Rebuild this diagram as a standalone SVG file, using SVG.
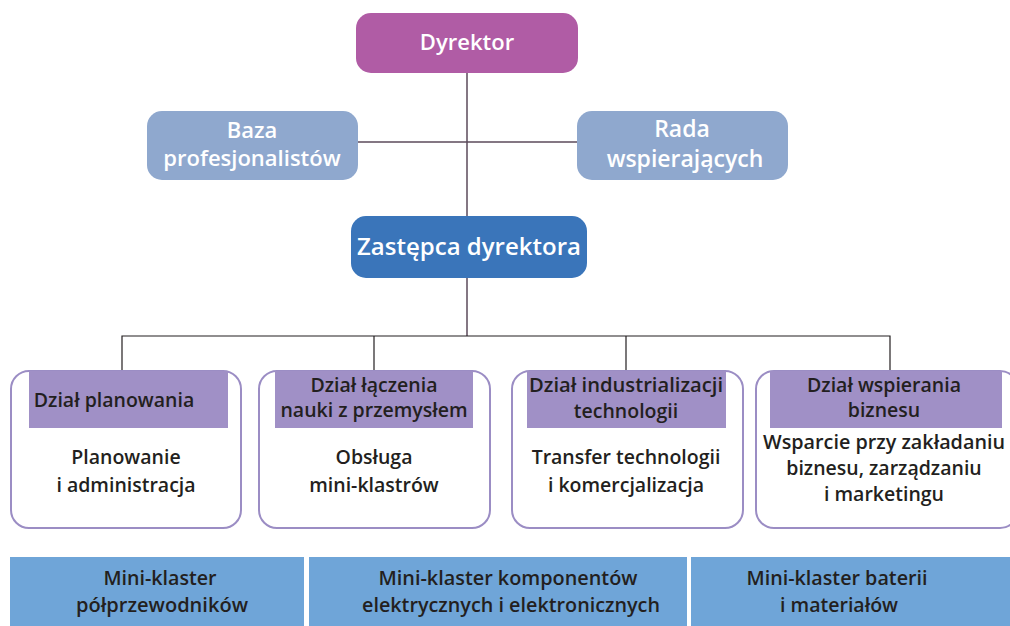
<svg xmlns="http://www.w3.org/2000/svg" width="1010" height="626" viewBox="0 0 1010 626">
  <style>
    text { font-family: "Open Sans", "Noto Sans", "Liberation Sans", sans-serif; font-weight: 600; text-anchor: middle; }
    .w { fill: #ffffff; }
    .d { fill: #231f20; font-size: 19.5px; }
    .c { fill: #231f20; font-size: 19.5px; }
    .line { stroke: #5b4a5a; stroke-width: 1.5; fill: none; }
    .bus { stroke: #231f20; stroke-width: 1.2; fill: none; }
    .dept { fill: #ffffff; stroke: #9b8dc4; stroke-width: 2; }
    .head { fill: #a090c6; }
    .cluster { fill: #6fa5d8; }
  </style>

  <!-- connectors -->
  <g id="connectors">
    <line class="line" x1="467" y1="73" x2="467" y2="216"/>
    <line class="line" x1="358" y1="142" x2="577" y2="142"/>
    <line class="line" x1="467" y1="278" x2="467" y2="336"/>
    <polyline class="bus" points="122,371 122,336 890,336 890,371"/>
    <line class="bus" x1="374" y1="336" x2="374" y2="371"/>
    <line class="bus" x1="626" y1="336" x2="626" y2="371"/>
  </g>

  <g id="dyrektor">
    <rect x="356" y="13" width="222" height="60" rx="15" fill="#b05ca5"/>
    <text class="w" x="467" y="50" font-size="22">Dyrektor</text>
  </g>

  <g id="baza">
    <rect x="147" y="111" width="211" height="69" rx="15" fill="#8fa8ce"/>
    <text class="w" x="252" y="138" font-size="22">Baza</text>
    <text class="w" x="252" y="166" font-size="22">profesjonalistów</text>
  </g>

  <g id="rada">
    <rect x="577" y="111" width="211" height="69" rx="15" fill="#8fa8ce"/>
    <text class="w" x="682" y="137" font-size="23">Rada</text>
    <text class="w" x="685" y="167" font-size="23">wspierających</text>
  </g>

  <g id="zastepca">
    <rect x="351" y="216" width="236" height="62" rx="15" fill="#3a75ba"/>
    <text class="w" x="469" y="255" font-size="24">Zastępca dyrektora</text>
  </g>

  <g id="dzial-planowania">
    <rect class="dept" x="11" y="371" width="230" height="157" rx="18"/>
    <rect class="head" x="29" y="371" width="199" height="57"/>
    <text class="d" x="114" y="407">Dział planowania</text>
    <text class="d" x="126" y="464">Planowanie</text>
    <text class="d" x="126" y="492">i administracja</text>
  </g>

  <g id="dzial-laczenia">
    <rect class="dept" x="259" y="371" width="231" height="157" rx="18"/>
    <rect class="head" x="275" y="371" width="198" height="57"/>
    <text class="d" x="374" y="392">Dział łączenia</text>
    <text class="d" x="374" y="417">nauki z przemysłem</text>
    <text class="d" x="374" y="464">Obsługa</text>
    <text class="d" x="374" y="492">mini-klastrów</text>
  </g>

  <g id="dzial-industrializacji">
    <rect class="dept" x="512" y="371" width="231" height="157" rx="18"/>
    <rect class="head" x="527" y="371" width="199" height="57"/>
    <text class="d" x="626" y="392" textLength="194" lengthAdjust="spacingAndGlyphs">Dział industrializacji</text>
    <text class="d" x="626" y="418">technologii</text>
    <text class="d" x="626" y="464">Transfer technologii</text>
    <text class="d" x="626" y="492">i komercjalizacja</text>
  </g>

  <g id="dzial-wspierania">
    <rect class="dept" x="756" y="371" width="262" height="157" rx="18"/>
    <rect class="head" x="770" y="371" width="232" height="57"/>
    <text class="d" x="884" y="392">Dział wspierania</text>
    <text class="d" x="884" y="417">biznesu</text>
    <text class="d" x="884" y="449" textLength="242" lengthAdjust="spacingAndGlyphs">Wsparcie przy zakładaniu</text>
    <text class="d" x="884" y="475">biznesu, zarządzaniu</text>
    <text class="d" x="884" y="501">i marketingu</text>
  </g>

  <g id="mini-klaster-polprzewodnikow">
    <rect class="cluster" x="10" y="557" width="294" height="69"/>
    <text class="c" x="160" y="585" textLength="113" lengthAdjust="spacingAndGlyphs">Mini-klaster</text>
    <text class="c" x="162" y="612" textLength="172" lengthAdjust="spacingAndGlyphs">półprzewodników</text>
  </g>

  <g id="mini-klaster-komponentow">
    <rect class="cluster" x="309" y="557" width="378" height="69"/>
    <text class="c" x="508" y="585" textLength="259" lengthAdjust="spacingAndGlyphs">Mini-klaster komponentów</text>
    <text class="c" x="511" y="612" textLength="298" lengthAdjust="spacingAndGlyphs">elektrycznych i elektronicznych</text>
  </g>

  <g id="mini-klaster-baterii">
    <rect class="cluster" x="691" y="557" width="319" height="69"/>
    <text class="c" x="837" y="585" textLength="181" lengthAdjust="spacingAndGlyphs">Mini-klaster baterii</text>
    <text class="c" x="839" y="612" textLength="118" lengthAdjust="spacingAndGlyphs">i materiałów</text>
  </g>
</svg>
